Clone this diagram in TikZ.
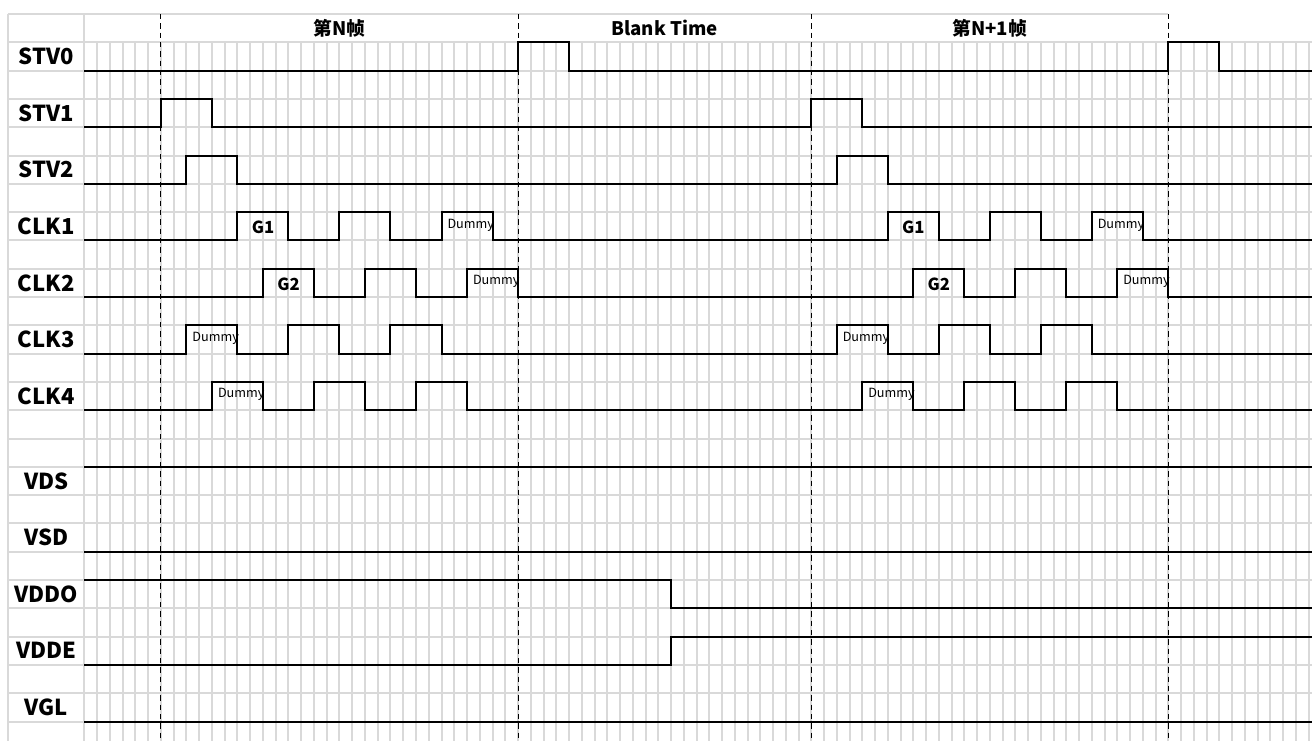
\documentclass[tikz,border=0pt]{standalone}
\usepackage{fontspec}
\setmainfont{Noto Sans CJK SC}
\usetikzlibrary{positioning}

\begin{document}
\begin{tikzpicture}[
        x=9.5625pt, y=-21.225pt,
        grid/.style={draw=black!15, line width=1.5pt},
        wave/.style={draw=black, line width=1.5pt},
        framecut/.style={draw=black, line width=0.75pt, dash pattern=on 4pt off 3pt},
        siglabel/.style={font=\fontsize{16.5}{17}\selectfont\bfseries},
        headlabel/.style={font=\fontsize{14}{15}\selectfont\bfseries},
        gatelabel/.style={font=\fontsize{12.5}{13}\selectfont\bfseries},
        dummylabel/.style={font=\fontsize{9.5}{10}\selectfont, anchor=west, inner sep=0pt}
        ]
        \useasboundingbox (-6.627,-0.495) rectangle (96.275,25.654);

        % Define the grid
        \foreach \k in {0,...,96}
            \draw[grid] (\k,1) -- (\k,25.7);
        \foreach \r in {1,...,25}
            \draw[grid] (-6,\r) -- (96.3,\r);
        \draw[grid] (-6,0) -- (85,0);
        \draw[grid] (-6,0) -- (-6,25.7);
        \draw[grid] (0,0) -- (0,1);

        % Frame boundaries
        \foreach \k in {6,34,57,85}
            \draw[framecut] (\k,0) -- (\k,25.7);

        % Header
        \node[headlabel] (frameN) at (20,0.5) {第N帧};
        \node[headlabel] (blank) at (45.5,0.5) {Blank Time};
        \node[headlabel] (frameNN) at (71,0.5) {第N+1帧};

        % Signal names
        \node[siglabel] (stv0) at (-3,1.5) {STV0};
        \node[siglabel] (stv1) at (-3,3.5) {STV1};
        \node[siglabel] (stv2) at (-3,5.5) {STV2};
        \node[siglabel] (clk1) at (-3,7.5) {CLK1};
        \node[siglabel] (clk2) at (-3,9.5) {CLK2};
        \node[siglabel] (clk3) at (-3,11.5) {CLK3};
        \node[siglabel] (clk4) at (-3,13.5) {CLK4};
        \node[siglabel] (vds) at (-3,16.5) {VDS};
        \node[siglabel] (vsd) at (-3,18.5) {VSD};
        \node[siglabel] (vddo) at (-3,20.5) {VDDO};
        \node[siglabel] (vdde) at (-3,22.5) {VDDE};
        \node[siglabel] (vgl) at (-3,24.5) {VGL};

        % Draw the pulse trains
        \draw[wave] (0,2) \foreach \s in {34,85} { -- (\s,2) -- (\s,1) -- (\s+4,1) -- (\s+4,2) } -- (96.3,2);
        \draw[wave] (0,4) \foreach \s in {6,57} { -- (\s,4) -- (\s,3) -- (\s+4,3) -- (\s+4,4) } -- (96.3,4);
        \draw[wave] (0,6) \foreach \s in {8,59} { -- (\s,6) -- (\s,5) -- (\s+4,5) -- (\s+4,6) } -- (96.3,6);
        \draw[wave] (0,8) \foreach \s in {12,20,28,63,71,79} { -- (\s,8) -- (\s,7) -- (\s+4,7) -- (\s+4,8) } -- (96.3,8);
        \draw[wave] (0,10) \foreach \s in {14,22,30,65,73,81} { -- (\s,10) -- (\s,9) -- (\s+4,9) -- (\s+4,10) } -- (96.3,10);
        \draw[wave] (0,12) \foreach \s in {8,16,24,59,67,75} { -- (\s,12) -- (\s,11) -- (\s+4,11) -- (\s+4,12) } -- (96.3,12);
        \draw[wave] (0,14) \foreach \s in {10,18,26,61,69,77} { -- (\s,14) -- (\s,13) -- (\s+4,13) -- (\s+4,14) } -- (96.3,14);

        % Supply levels
        \draw[wave] (0,16) -- (96.3,16);
        \draw[wave] (0,19) -- (96.3,19);
        \draw[wave] (0,20) -- (46,20) -- (46,21) -- (96.3,21);
        \draw[wave] (0,23) -- (46,23) -- (46,22) -- (96.3,22);
        \draw[wave] (0,25) -- (96.3,25);

        % Pulse labels
        \foreach \s in {12,63}
            \node[gatelabel] (g1at\s) at (\s+2,7.55) {G1};
        \foreach \s in {14,65}
            \node[gatelabel] (g2at\s) at (\s+2,9.55) {G2};
        \foreach \s/\h in {28/7,79/7,30/9,81/9,8/11,59/11,10/13,61/13}
            \node[dummylabel] (dummy\s at\h) at (\s+0.45,\h+0.45) {Dummy};
    \end{tikzpicture}
\end{document}
